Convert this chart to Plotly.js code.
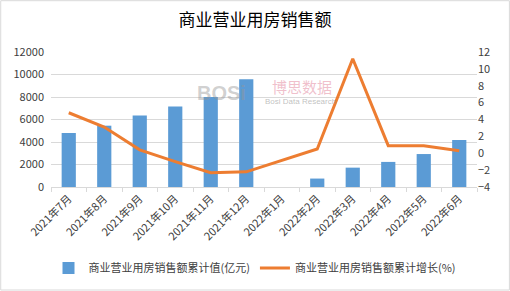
<!DOCTYPE html>
<html>
<head>
<meta charset="utf-8">
<script src="https://cdn.plot.ly/plotly-3.0.1.min.js"></script>
<style>html,body{margin:0;padding:0;background:#fff;}#chart{width:510px;height:291px;}</style>
</head>
<body>
<div id="chart"></div>
<script>
var categories = ["2021年7月","2021年8月","2021年9月","2021年10月","2021年11月","2021年12月","2022年1月","2022年2月","2022年3月","2022年4月","2022年5月","2022年6月"];
var salesValue = [4800, 5450, 6350, 7150, 8000, 9580, null, 750, 1720, 2230, 2930, 4180];
var salesGrowth = [4.8, 3.1, 0.4, -1.0, -2.3, -2.2, null, 0.5, 11.2, 0.9, 0.9, 0.3];
var leftTicks = [0, 2000, 4000, 6000, 8000, 10000, 12000];
var leftTickText = ["0", "2000", "4000", "6000", "8000", "10000", "12000"];
var rightTicks = [-4, -2, 0, 2, 4, 6, 8, 10, 12];
var barName = "商业营业用房销售额累计值(亿元)";
var lineName = "商业营业用房销售额累计增长(%)";
var titleText = "商业营业用房销售额";

var font = "'Noto Sans CJK SC', 'Microsoft YaHei', sans-serif";
var data = [
  {type: "bar", x: categories, y: salesValue, name: barName, marker: {color: "#5B9BD5"}, yaxis: "y"},
  {type: "scatter", mode: "lines", x: categories, y: salesGrowth, name: lineName, connectgaps: true,
   line: {color: "#ED7D31", width: 3}, yaxis: "y2"}
];
var layout = {
  width: 510, height: 291,
  margin: {l: 51, r: 33, t: 52, b: 104, autoexpand: false},
  paper_bgcolor: "#fff", plot_bgcolor: "#fff",
  font: {family: font, size: 11, color: "#404040"},
  title: {text: titleText, x: 0.5, xanchor: "center", y: 0.93, yanchor: "middle", font: {family: font, size: 17, color: "#000"}},
  bargap: 0.6,
  showlegend: true,
  legend: {orientation: "h", xref: "container", yref: "container", x: 0.5, xanchor: "center", y: 0.079, yanchor: "middle", font: {size: 11, color: "#404040"}, itemwidth: 30, traceorder: "normal"},
  xaxis: {type: "category", automargin: false, tickangle: -45, tickfont: {size: 11, color: "#404040"}, showgrid: false, showline: true, linecolor: "#d9d9d9", ticks: "outside", ticklen: 4, tickcolor: "#d9d9d9", tickson: "boundaries", zeroline: false},
  yaxis: {automargin: false, range: [0, 12000], tickvals: leftTicks, ticktext: leftTickText, showgrid: true, gridcolor: "#d9d9d9", zeroline: false, showline: false, tickfont: {size: 11, color: "#404040"}, ticks: "", ticklabelstandoff: 6},
  yaxis2: {automargin: false, range: [-4, 12], tickvals: rightTicks, overlaying: "y", side: "right", showgrid: false, zeroline: false, showline: false, tickfont: {size: 11, color: "#404040"}},
  annotations: [
    {xref: "paper", yref: "paper", x: 0.40, y: 0.79, text: "<b>BOSi</b>", showarrow: false, font: {family: "Arial Black, Arial, sans-serif", size: 20, color: "rgba(150,150,150,0.45)"}},
    {xref: "paper", yref: "paper", x: 0.59, y: 0.83, text: "博思数据", showarrow: false, borderpad: 0, font: {family: font, size: 15, color: "rgba(230,150,170,0.6)"}},
    {xref: "paper", yref: "paper", x: 0.585, y: 0.635, text: "Bosi Data Research", showarrow: false, borderpad: 0, font: {family: "Arial, sans-serif", size: 8, color: "rgba(150,150,150,0.6)"}}
  ],
  shapes: [
    {type: "rect", xref: "paper", yref: "paper", x0: -0.118, x1: 1.076, y0: -0.763, y1: 1.38, line: {color: "#d9d9d9", width: 1}}
  ]
};
Plotly.newPlot("chart", data, layout, {displayModeBar: false, staticPlot: true});
</script>
</body>
</html>
